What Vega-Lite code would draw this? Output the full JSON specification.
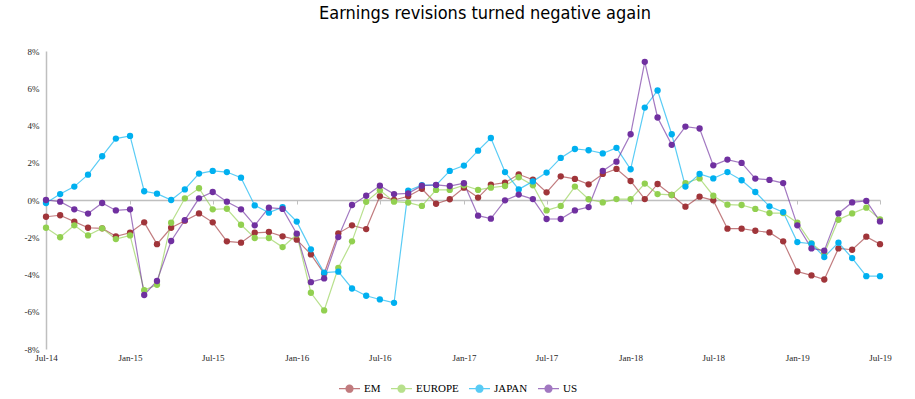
{
  "$schema": "https://vega.github.io/schema/vega-lite/v6.json",
  "width": 834,
  "height": 298,
  "autosize": "none",
  "padding": {"left": 46, "top": 51, "right": 35, "bottom": 50},
  "background": "white",
  "title": {"text": "Earnings revisions turned negative again", "font": "DejaVu Sans Condensed, Roboto, sans-serif", "fontSize": 18, "fontWeight": "normal", "color": "#000000", "anchor": "middle", "dx": 22, "offset": 10, "baseline": "alphabetic"},
  "data": {
    "format": {"parse": {"date": "utc:'%Y-%m'"}},
    "values": [
      {"date":"2014-07","series":"EM","value":-0.9},{"date":"2014-08","series":"EM","value":-0.82},{"date":"2014-09","series":"EM","value":-1.16},{"date":"2014-10","series":"EM","value":-1.49},{"date":"2014-11","series":"EM","value":-1.52},{"date":"2014-12","series":"EM","value":-1.95},
      {"date":"2015-01","series":"EM","value":-1.76},{"date":"2015-02","series":"EM","value":-1.2},{"date":"2015-03","series":"EM","value":-2.37},{"date":"2015-04","series":"EM","value":-1.49},{"date":"2015-05","series":"EM","value":-1.11},{"date":"2015-06","series":"EM","value":-0.72},
      {"date":"2015-07","series":"EM","value":-1.2},{"date":"2015-08","series":"EM","value":-2.22},{"date":"2015-09","series":"EM","value":-2.29},{"date":"2015-10","series":"EM","value":-1.76},{"date":"2015-11","series":"EM","value":-1.72},{"date":"2015-12","series":"EM","value":-1.95},
      {"date":"2016-01","series":"EM","value":-2.13},{"date":"2016-02","series":"EM","value":-2.92},{"date":"2016-03","series":"EM","value":-3.95},{"date":"2016-04","series":"EM","value":-1.79},{"date":"2016-05","series":"EM","value":-1.36},{"date":"2016-06","series":"EM","value":-1.56},
      {"date":"2016-07","series":"EM","value":0.2},{"date":"2016-08","series":"EM","value":0},{"date":"2016-09","series":"EM","value":0.2},{"date":"2016-10","series":"EM","value":0.6},{"date":"2016-11","series":"EM","value":-0.2},{"date":"2016-12","series":"EM","value":0.04},
      {"date":"2017-01","series":"EM","value":0.66},{"date":"2017-02","series":"EM","value":0.13},{"date":"2017-03","series":"EM","value":0.82},{"date":"2017-04","series":"EM","value":0.93},{"date":"2017-05","series":"EM","value":1.38},{"date":"2017-06","series":"EM","value":1.09},
      {"date":"2017-07","series":"EM","value":0.41},{"date":"2017-08","series":"EM","value":1.27},{"date":"2017-09","series":"EM","value":1.13},{"date":"2017-10","series":"EM","value":0.84},{"date":"2017-11","series":"EM","value":1.4},{"date":"2017-12","series":"EM","value":1.67},
      {"date":"2018-01","series":"EM","value":1.02},{"date":"2018-02","series":"EM","value":0.05},{"date":"2018-03","series":"EM","value":0.86},{"date":"2018-04","series":"EM","value":0.27},{"date":"2018-05","series":"EM","value":-0.36},{"date":"2018-06","series":"EM","value":0.18},
      {"date":"2018-07","series":"EM","value":-0.02},{"date":"2018-08","series":"EM","value":-1.54},{"date":"2018-09","series":"EM","value":-1.54},{"date":"2018-10","series":"EM","value":-1.65},{"date":"2018-11","series":"EM","value":-1.74},{"date":"2018-12","series":"EM","value":-2.22},
      {"date":"2019-01","series":"EM","value":-3.84},{"date":"2019-02","series":"EM","value":-4.05},{"date":"2019-03","series":"EM","value":-4.27},{"date":"2019-04","series":"EM","value":-2.6},{"date":"2019-05","series":"EM","value":-2.67},{"date":"2019-06","series":"EM","value":-1.97},{"date":"2019-07","series":"EM","value":-2.37},

      {"date":"2014-07","series":"EUROPE","value":-1.49},{"date":"2014-08","series":"EUROPE","value":-2.0},{"date":"2014-09","series":"EUROPE","value":-1.36},{"date":"2014-10","series":"EUROPE","value":-1.9},{"date":"2014-11","series":"EUROPE","value":-1.52},{"date":"2014-12","series":"EUROPE","value":-2.1},
      {"date":"2015-01","series":"EUROPE","value":-1.9},{"date":"2015-02","series":"EUROPE","value":-4.84},{"date":"2015-03","series":"EUROPE","value":-4.55},{"date":"2015-04","series":"EUROPE","value":-1.22},{"date":"2015-05","series":"EUROPE","value":0.09},{"date":"2015-06","series":"EUROPE","value":0.63},
      {"date":"2015-07","series":"EUROPE","value":-0.5},{"date":"2015-08","series":"EUROPE","value":-0.47},{"date":"2015-09","series":"EUROPE","value":-1.33},{"date":"2015-10","series":"EUROPE","value":-2.04},{"date":"2015-11","series":"EUROPE","value":-2.04},{"date":"2015-12","series":"EUROPE","value":-2.53},
      {"date":"2016-01","series":"EUROPE","value":-1.85},{"date":"2016-02","series":"EUROPE","value":-4.98},{"date":"2016-03","series":"EUROPE","value":-5.93},{"date":"2016-04","series":"EUROPE","value":-3.64},{"date":"2016-05","series":"EUROPE","value":-2.22},{"date":"2016-06","series":"EUROPE","value":-0.1},
      {"date":"2016-07","series":"EUROPE","value":0.52},{"date":"2016-08","series":"EUROPE","value":-0.09},{"date":"2016-09","series":"EUROPE","value":-0.14},{"date":"2016-10","series":"EUROPE","value":-0.32},{"date":"2016-11","series":"EUROPE","value":0.54},{"date":"2016-12","series":"EUROPE","value":0.54},
      {"date":"2017-01","series":"EUROPE","value":0.79},{"date":"2017-02","series":"EUROPE","value":0.54},{"date":"2017-03","series":"EUROPE","value":0.66},{"date":"2017-04","series":"EUROPE","value":0.75},{"date":"2017-05","series":"EUROPE","value":1.22},{"date":"2017-06","series":"EUROPE","value":0.79},
      {"date":"2017-07","series":"EUROPE","value":-0.56},{"date":"2017-08","series":"EUROPE","value":-0.32},{"date":"2017-09","series":"EUROPE","value":0.72},{"date":"2017-10","series":"EUROPE","value":0.04},{"date":"2017-11","series":"EUROPE","value":-0.13},{"date":"2017-12","series":"EUROPE","value":0.05},
      {"date":"2018-01","series":"EUROPE","value":0.05},{"date":"2018-02","series":"EUROPE","value":0.88},{"date":"2018-03","series":"EUROPE","value":0.32},{"date":"2018-04","series":"EUROPE","value":0.27},{"date":"2018-05","series":"EUROPE","value":0.91},{"date":"2018-06","series":"EUROPE","value":1.16},
      {"date":"2018-07","series":"EUROPE","value":0.23},{"date":"2018-08","series":"EUROPE","value":-0.25},{"date":"2018-09","series":"EUROPE","value":-0.27},{"date":"2018-10","series":"EUROPE","value":-0.48},{"date":"2018-11","series":"EUROPE","value":-0.7},{"date":"2018-12","series":"EUROPE","value":-0.7},
      {"date":"2019-01","series":"EUROPE","value":-1.22},{"date":"2019-02","series":"EUROPE","value":-2.33},{"date":"2019-03","series":"EUROPE","value":-2.87},{"date":"2019-04","series":"EUROPE","value":-1.06},{"date":"2019-05","series":"EUROPE","value":-0.72},{"date":"2019-06","series":"EUROPE","value":-0.41},{"date":"2019-07","series":"EUROPE","value":-1.04},

      {"date":"2014-07","series":"JAPAN","value":-0.16},{"date":"2014-08","series":"JAPAN","value":0.32},{"date":"2014-09","series":"JAPAN","value":0.72},{"date":"2014-10","series":"JAPAN","value":1.36},{"date":"2014-11","series":"JAPAN","value":2.35},{"date":"2014-12","series":"JAPAN","value":3.3},
      {"date":"2015-01","series":"JAPAN","value":3.44},{"date":"2015-02","series":"JAPAN","value":0.47},{"date":"2015-03","series":"JAPAN","value":0.34},{"date":"2015-04","series":"JAPAN","value":0},{"date":"2015-05","series":"JAPAN","value":0.57},{"date":"2015-06","series":"JAPAN","value":1.42},
      {"date":"2015-07","series":"JAPAN","value":1.56},{"date":"2015-08","series":"JAPAN","value":1.5},{"date":"2015-09","series":"JAPAN","value":1.2},{"date":"2015-10","series":"JAPAN","value":-0.29},{"date":"2015-11","series":"JAPAN","value":-0.68},{"date":"2015-12","series":"JAPAN","value":-0.39},
      {"date":"2016-01","series":"JAPAN","value":-1.16},{"date":"2016-02","series":"JAPAN","value":-2.65},{"date":"2016-03","series":"JAPAN","value":-3.9},{"date":"2016-04","series":"JAPAN","value":-3.85},{"date":"2016-05","series":"JAPAN","value":-4.75},{"date":"2016-06","series":"JAPAN","value":-5.14},
      {"date":"2016-07","series":"JAPAN","value":-5.34},{"date":"2016-08","series":"JAPAN","value":-5.52},{"date":"2016-09","series":"JAPAN","value":0.5},{"date":"2016-10","series":"JAPAN","value":0.8},{"date":"2016-11","series":"JAPAN","value":0.8},{"date":"2016-12","series":"JAPAN","value":1.56},
      {"date":"2017-01","series":"JAPAN","value":1.85},{"date":"2017-02","series":"JAPAN","value":2.65},{"date":"2017-03","series":"JAPAN","value":3.33},{"date":"2017-04","series":"JAPAN","value":1.5},{"date":"2017-05","series":"JAPAN","value":0.57},{"date":"2017-06","series":"JAPAN","value":1.0},
      {"date":"2017-07","series":"JAPAN","value":1.47},{"date":"2017-08","series":"JAPAN","value":2.26},{"date":"2017-09","series":"JAPAN","value":2.74},{"date":"2017-10","series":"JAPAN","value":2.67},{"date":"2017-11","series":"JAPAN","value":2.5},{"date":"2017-12","series":"JAPAN","value":2.8},
      {"date":"2018-01","series":"JAPAN","value":1.65},{"date":"2018-02","series":"JAPAN","value":4.96},{"date":"2018-03","series":"JAPAN","value":5.88},{"date":"2018-04","series":"JAPAN","value":3.53},{"date":"2018-05","series":"JAPAN","value":0.72},{"date":"2018-06","series":"JAPAN","value":1.4},
      {"date":"2018-07","series":"JAPAN","value":1.16},{"date":"2018-08","series":"JAPAN","value":1.5},{"date":"2018-09","series":"JAPAN","value":1.06},{"date":"2018-10","series":"JAPAN","value":0.43},{"date":"2018-11","series":"JAPAN","value":-0.34},{"date":"2018-12","series":"JAPAN","value":-0.65},
      {"date":"2019-01","series":"JAPAN","value":-2.26},{"date":"2019-02","series":"JAPAN","value":-2.35},{"date":"2019-03","series":"JAPAN","value":-3.06},{"date":"2019-04","series":"JAPAN","value":-2.29},{"date":"2019-05","series":"JAPAN","value":-3.12},{"date":"2019-06","series":"JAPAN","value":-4.09},{"date":"2019-07","series":"JAPAN","value":-4.09},

      {"date":"2014-07","series":"US","value":0},{"date":"2014-08","series":"US","value":-0.09},{"date":"2014-09","series":"US","value":-0.5},{"date":"2014-10","series":"US","value":-0.73},{"date":"2014-11","series":"US","value":-0.16},{"date":"2014-12","series":"US","value":-0.56},
      {"date":"2015-01","series":"US","value":-0.5},{"date":"2015-02","series":"US","value":-5.1},{"date":"2015-03","series":"US","value":-4.35},{"date":"2015-04","series":"US","value":-2.2},{"date":"2015-05","series":"US","value":-1.08},{"date":"2015-06","series":"US","value":0.09},
      {"date":"2015-07","series":"US","value":0.43},{"date":"2015-08","series":"US","value":-0.09},{"date":"2015-09","series":"US","value":-0.5},{"date":"2015-10","series":"US","value":-1.36},{"date":"2015-11","series":"US","value":-0.41},{"date":"2015-12","series":"US","value":-0.48},
      {"date":"2016-01","series":"US","value":-1.81},{"date":"2016-02","series":"US","value":-4.41},{"date":"2016-03","series":"US","value":-4.21},{"date":"2016-04","series":"US","value":-1.99},{"date":"2016-05","series":"US","value":-0.27},{"date":"2016-06","series":"US","value":0.23},
      {"date":"2016-07","series":"US","value":0.77},{"date":"2016-08","series":"US","value":0.32},{"date":"2016-09","series":"US","value":0.36},{"date":"2016-10","series":"US","value":0.77},{"date":"2016-11","series":"US","value":0.81},{"date":"2016-12","series":"US","value":0.75},
      {"date":"2017-01","series":"US","value":0.9},{"date":"2017-02","series":"US","value":-0.84},{"date":"2017-03","series":"US","value":-1.0},{"date":"2017-04","series":"US","value":-0.02},{"date":"2017-05","series":"US","value":0.29},{"date":"2017-06","series":"US","value":0.05},
      {"date":"2017-07","series":"US","value":-1.02},{"date":"2017-08","series":"US","value":-1.02},{"date":"2017-09","series":"US","value":-0.56},{"date":"2017-10","series":"US","value":-0.38},{"date":"2017-11","series":"US","value":1.56},{"date":"2017-12","series":"US","value":2.06},
      {"date":"2018-01","series":"US","value":3.53},{"date":"2018-02","series":"US","value":7.42},{"date":"2018-03","series":"US","value":4.43},{"date":"2018-04","series":"US","value":2.96},{"date":"2018-05","series":"US","value":3.94},{"date":"2018-06","series":"US","value":3.84},
      {"date":"2018-07","series":"US","value":1.86},{"date":"2018-08","series":"US","value":2.17},{"date":"2018-09","series":"US","value":1.99},{"date":"2018-10","series":"US","value":1.15},{"date":"2018-11","series":"US","value":1.08},{"date":"2018-12","series":"US","value":0.91},
      {"date":"2019-01","series":"US","value":-1.36},{"date":"2019-02","series":"US","value":-2.6},{"date":"2019-03","series":"US","value":-2.72},{"date":"2019-04","series":"US","value":-0.72},{"date":"2019-05","series":"US","value":-0.13},{"date":"2019-06","series":"US","value":-0.05},{"date":"2019-07","series":"US","value":-1.15}
    ]
  },
  "encoding": {
    "x": {
      "field": "date", "type": "temporal",
      "scale": {"type": "utc", "domain": [{"year": 2014, "month": 7, "date": 1, "utc": true}, {"year": 2019, "month": 7, "date": 1, "utc": true}], "nice": false},
      "axis": {"title": null, "format": "%b-%y", "tickCount": {"interval": "month", "step": 6}, "grid": false, "domainColor": "#BFBFBF", "domainWidth": 1.5, "tickColor": "#BFBFBF", "tickSize": 4, "tickWidth": 1, "offset": -149, "labelPadding": 149, "labelFont": "Liberation Serif", "labelFontSize": 9, "labelColor": "#262626", "labelFlush": false, "labelOverlap": false}
    },
    "y": {
      "field": "value", "type": "quantitative",
      "scale": {"domain": [-8, 8], "nice": false},
      "axis": {"title": null, "values": [-8, -6, -4, -2, 0, 2, 4, 6, 8], "labelExpr": "datum.value + '%'", "grid": false, "ticks": false, "domainColor": "#BFBFBF", "domainWidth": 1.5, "labelPadding": 7, "labelFont": "Liberation Serif", "labelFontSize": 9, "labelColor": "#262626"}
    },
    "color": {
      "field": "series", "type": "nominal",
      "scale": {"domain": ["EM", "EUROPE", "JAPAN", "US"], "range": ["#A0353A", "#92D050", "#00B0F0", "#7030A0"]},
      "legend": {"title": null, "orient": "none", "legendX": 292, "legendY": 326, "direction": "horizontal", "symbolType": "M-1,0H1M0.33,0A0.33,0.33,0,1,1,-0.33,0A0.33,0.33,0,1,1,0.33,0Z", "symbolSize": 441, "symbolStrokeWidth": 1.3, "labelFont": "Liberation Serif", "labelFontSize": 11, "labelColor": "#000000", "columnPadding": 7, "labelOffset": 3,
        "encode": {"symbols": {"update": {"fill": {"scale": "color", "field": "value"}, "stroke": {"scale": "color", "field": "value"}, "strokeOpacity": {"value": 0.55}, "opacity": {"value": 1}}}}}
    }
  },
  "layer": [
    {"mark": {"type": "line", "strokeWidth": 1.2, "opacity": 0.65}},
    {"mark": {"type": "point", "filled": true, "size": 40, "opacity": 1}}
  ],
  "config": {"view": {"stroke": null}}
}
